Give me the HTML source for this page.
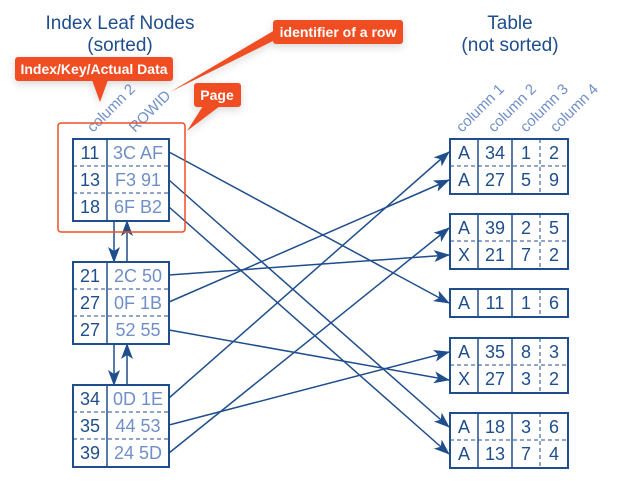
<!DOCTYPE html>
<html><head><meta charset="utf-8"><style>
body{margin:0;background:#fff;}
svg{display:block;font-family:"Liberation Sans",sans-serif;}
</style></head><body>
<svg width="635" height="488" viewBox="0 0 635 488">
<defs>
<marker id="ah2" markerWidth="16" markerHeight="12" refX="15" refY="6" orient="auto" markerUnits="userSpaceOnUse" viewBox="0 0 16 12">
<path d="M0,0 L16,6 L0,12 L4,6 Z" fill="#1f4e8c"/></marker>
<filter id="sh" x="-20%" y="-40%" width="140%" height="200%"><feDropShadow dx="0" dy="3" stdDeviation="4" flood-color="#000" flood-opacity="0.15"/></filter>
</defs>
<g fill="#1f4e8c" font-size="19" text-anchor="middle">
<text x="120" y="29">Index Leaf Nodes</text><text x="120" y="51">(sorted)</text>
<text x="510" y="29">Table</text><text x="510" y="51">(not sorted)</text>
</g>
<g fill="#6f8fc8" font-size="15">
<text transform="translate(93,133) rotate(-45)">column 2</text>
<text transform="translate(135,133) rotate(-45)">ROWID</text>
<text transform="translate(462,133) rotate(-45)">column 1</text>
<text transform="translate(494,133) rotate(-45)">column 2</text>
<text transform="translate(526,133) rotate(-45)">column 3</text>
<text transform="translate(556,133) rotate(-45)">column 4</text>
</g>
<g stroke="#1f4e8c" fill="none">
<g id="n1"><rect x="73" y="139" width="96" height="82" stroke-width="2"/><line x1="107" y1="139" x2="107" y2="221" stroke-width="1.5"/>
<line x1="73" y1="166" x2="169" y2="166" stroke-dasharray="4,3"/><line x1="73" y1="193" x2="169" y2="193" stroke-dasharray="4,3"/></g>
<use href="#n1" y="123"/><use href="#n1" y="246"/>
<line x1="114" y1="221" x2="114" y2="262" stroke-width="1.5" marker-end="url(#ah2)"/>
<line x1="127" y1="262" x2="127" y2="221" stroke-width="1.5" marker-end="url(#ah2)"/>
<line x1="114" y1="344" x2="114" y2="385" stroke-width="1.5" marker-end="url(#ah2)"/>
<line x1="127" y1="385" x2="127" y2="344" stroke-width="1.5" marker-end="url(#ah2)"/>
</g>
<g font-size="18" fill="#1f4e8c" text-anchor="middle">
<text x="90" y="159">11</text><text x="90" y="186">13</text><text x="90" y="213">18</text>
<text x="90" y="282">21</text><text x="90" y="309">27</text><text x="90" y="336">27</text>
<text x="90" y="405">34</text><text x="90" y="432">35</text><text x="90" y="459">39</text>
</g>
<g font-size="18" fill="#6f8fc8" text-anchor="middle">
<text x="138" y="159">3C AF</text><text x="138" y="186">F3 91</text><text x="138" y="213">6F B2</text>
<text x="138" y="282">2C 50</text><text x="138" y="309">0F 1B</text><text x="138" y="336">52 55</text>
<text x="138" y="405">0D 1E</text><text x="138" y="432">44 53</text><text x="138" y="459">24 5D</text>
</g>
<g stroke="#1f4e8c" fill="none">
<g id="t2"><rect x="450" y="139" width="118" height="55" stroke-width="2"/>
<line x1="478" y1="139" x2="478" y2="194" stroke-width="1.5"/><line x1="512" y1="139" x2="512" y2="194" stroke-width="1.5"/>
<line x1="540" y1="139" x2="540" y2="194" stroke-dasharray="4,3"/><line x1="450" y1="166" x2="568" y2="166" stroke-dasharray="4,3"/></g>
<use href="#t2" y="75"/><use href="#t2" y="199"/><use href="#t2" y="274"/>
<rect x="450" y="289" width="118" height="28" stroke-width="2"/>
<line x1="478" y1="289" x2="478" y2="317" stroke-width="1.5"/><line x1="512" y1="289" x2="512" y2="317" stroke-width="1.5"/>
<line x1="540" y1="289" x2="540" y2="317" stroke-dasharray="4,3"/>
</g>
<g font-size="18" fill="#1f4e8c" text-anchor="middle">
<g><text x="464" y="159">A</text><text x="495" y="159">34</text><text x="526" y="159">1</text><text x="554" y="159">2</text>
<text x="464" y="186">A</text><text x="495" y="186">27</text><text x="526" y="186">5</text><text x="554" y="186">9</text></g>
<g transform="translate(0,75)"><text x="464" y="159">A</text><text x="495" y="159">39</text><text x="526" y="159">2</text><text x="554" y="159">5</text>
<text x="464" y="186">X</text><text x="495" y="186">21</text><text x="526" y="186">7</text><text x="554" y="186">2</text></g>
<text x="464" y="309">A</text><text x="495" y="309">11</text><text x="526" y="309">1</text><text x="554" y="309">6</text>
<g transform="translate(0,199)"><text x="464" y="159">A</text><text x="495" y="159">35</text><text x="526" y="159">8</text><text x="554" y="159">3</text>
<text x="464" y="186">X</text><text x="495" y="186">27</text><text x="526" y="186">3</text><text x="554" y="186">2</text></g>
<g transform="translate(0,274)"><text x="464" y="159">A</text><text x="495" y="159">18</text><text x="526" y="159">3</text><text x="554" y="159">6</text>
<text x="464" y="186">A</text><text x="495" y="186">13</text><text x="526" y="186">7</text><text x="554" y="186">4</text></g>
</g>
<g stroke="#1f4e8c" stroke-width="1.5" fill="none" marker-end="url(#ah2)">
<line x1="169" y1="152" x2="449" y2="303"/>
<line x1="169" y1="180" x2="449" y2="427"/>
<line x1="169" y1="207" x2="449" y2="454"/>
<line x1="169" y1="275" x2="449" y2="255"/>
<line x1="169" y1="302" x2="449" y2="180"/>
<line x1="169" y1="330" x2="449" y2="380"/>
<line x1="169" y1="398" x2="449" y2="152"/>
<line x1="169" y1="425" x2="449" y2="352"/>
<line x1="169" y1="453" x2="449" y2="228"/>
</g>
<rect x="58" y="123" width="127" height="109" rx="3" fill="none" stroke="#f04e23" stroke-width="1.5"/>
<g fill="#f04e23" filter="url(#sh)">
<rect x="15" y="57" width="158" height="24" rx="3"/><path d="M92,80 L108,80 L100,102 Z"/>
<rect x="273" y="20" width="130" height="24" rx="3"/><path d="M275,30 L275,40 L170,92 Z"/>
<rect x="194" y="83" width="47" height="24" rx="3"/><path d="M203,106 L220,106 L187,131 Z"/>
</g>
<g fill="#fff" font-size="14" font-weight="bold" text-anchor="middle">
<text x="94" y="74">Index/Key/Actual Data</text>
<text x="338" y="37">identifier of a row</text>
<text x="217" y="100">Page</text>
</g>
</svg>
</body></html>
